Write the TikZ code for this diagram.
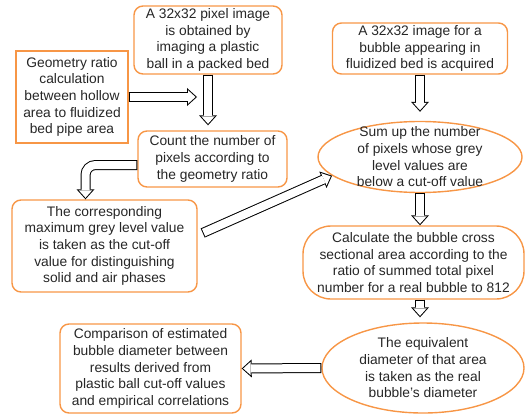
\documentclass[tikz,border=0pt]{standalone}
\usepackage{fontspec}
\setmainfont{Liberation Sans}
\usetikzlibrary{shapes.geometric,arrows.meta}
\definecolor{boxorange}{HTML}{F79646}
\definecolor{txtgrey}{HTML}{262626}

\begin{document}
\begin{tikzpicture}[x=1pt,y=-1pt,
  font=\fontsize{13.8}{16.7}\selectfont, text=txtgrey,
  box/.style={draw=boxorange, line width=1.4pt, rounded corners=9pt, align=center, inner sep=0pt},
  sqbox/.style={box, sharp corners},
  oval/.style={draw=boxorange, line width=1.4pt, ellipse, inner sep=0pt},
  fatarrow/.style={line width=10pt, shorten >=#1,
    -{Triangle[length=10pt, width=18pt, line width=0pt]},
    postaction={draw=white, line width=8pt, shorten <=1pt, shorten >=#1+1.5pt,
      -{Triangle[length=7.5pt, width=13.5pt, line width=0pt]}}},
  fatarrow/.default=0pt]
\useasboundingbox (0,0) rectangle (526,417);
% boxes on the left
\node [box, minimum width=148pt, minimum height=68pt] (pix) at (208,40)
  {A 32x32 pixel image\\is obtained by\\imaging a plastic\\ball in a packed bed};
\node [sqbox, minimum width=112pt, minimum height=92pt] (geo) at (72,97)
  {Geometry ratio\\calculation\\between hollow\\area to fluidized\\bed pipe area};
\node [box, minimum width=149pt, minimum height=56pt] (count) at (212.5,159)
  {Count the number of\\pixels according to\\the geometry ratio};
\node [box, minimum width=185pt, minimum height=92pt] (corr) at (104.5,246)
  {The corresponding\\maximum grey level value\\is taken as the cut-off\\value for distinguishing\\solid and air phases};
\node [box, minimum width=181pt, minimum height=89pt] (comp) at (150.5,368.5)
  {Comparison of estimated\\bubble diameter between\\results derived from\\plastic ball cut-off values\\and empirical correlations};
% boxes on the right
\node [box, minimum width=175pt, minimum height=51pt] (bub) at (420,48.5)
  {A 32x32 image for a\\bubble appearing in\\fluidized bed is acquired};
\node [oval, minimum width=204pt, minimum height=71pt,
  label={[align=center]center:Sum up the number\\of pixels whose grey\\level values are\\below a cut-off value}] (sum) at (420,157) {};
\node [box, rounded corners=28pt, minimum width=221pt, minimum height=73pt] (calc) at (413.5,262.5)
  {Calculate the bubble cross\\sectional area according to the\\ratio of summed total pixel\\number for a real bubble to 812};
\node [oval, minimum width=202pt, minimum height=90pt,
  label={[align=center]center:The equivalent\\diameter of that area\\is taken as the real\\bubble's diameter}] (equiv) at (423,368) {};
% arrows
\draw [fatarrow=5pt] (pix.south) -- (pix.south |- count.north);
\draw [fatarrow=11pt] (geo.east) -- (geo.east -| pix.south);
\draw [fatarrow, rounded corners=10pt] ([yshift=-6pt]count.west) -| ([xshift=-19pt]corr.north);
\draw [fatarrow] ([shift={(5pt,13pt)}]corr.east) -- (sum.192);
\draw [fatarrow=9pt] (bub.south) -- (bub.south |- sum.north);
\draw [fatarrow] (sum.south) -- (sum.south |- calc.north);
\draw [fatarrow=5pt] (calc.south -| sum.south) -- (sum.south |- equiv.north);
\draw [fatarrow] (equiv.west) -- (comp.east);
\end{tikzpicture}
\end{document}
